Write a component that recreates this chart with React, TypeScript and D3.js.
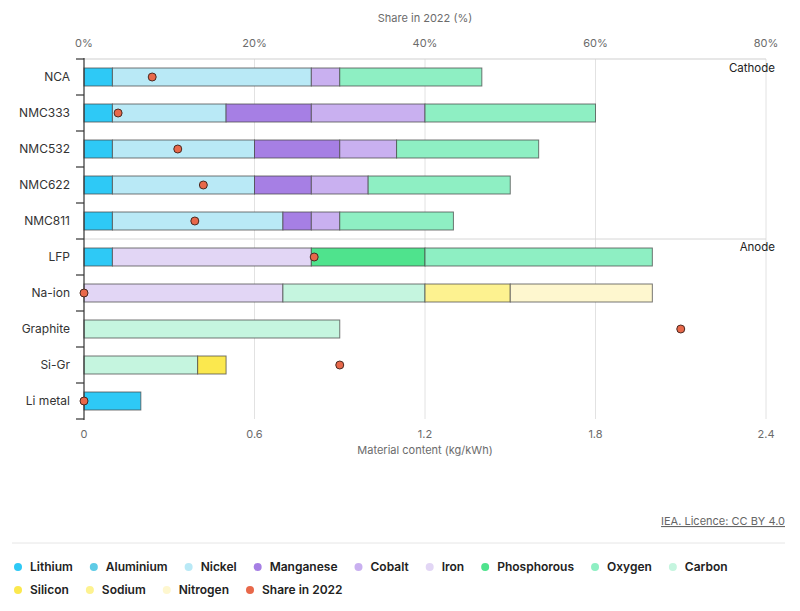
import React, { useMemo } from "react";
import * as d3 from "d3";

const categories = ["NCA", "NMC333", "NMC532", "NMC622", "NMC811", "LFP", "Na-ion", "Graphite", "Si-Gr", "Li metal"];
const elements = ["Lithium", "Aluminium", "Nickel", "Manganese", "Cobalt", "Iron", "Phosphorous", "Oxygen", "Carbon", "Silicon", "Sodium", "Nitrogen"];
const lithium = [0.1, 0.1, 0.1, 0.1, 0.1, 0.1, 0, 0, 0, 0.2];
const aluminium = [0, 0, 0, 0, 0, 0, 0, 0, 0, 0];
const nickel = [0.7, 0.4, 0.5, 0.5, 0.6, 0, 0, 0, 0, 0];
const manganese = [0, 0.3, 0.3, 0.2, 0.1, 0, 0, 0, 0, 0];
const cobalt = [0.1, 0.4, 0.2, 0.2, 0.1, 0, 0, 0, 0, 0];
const iron = [0, 0, 0, 0, 0, 0.7, 0.7, 0, 0, 0];
const phosphorous = [0, 0, 0, 0, 0, 0.4, 0, 0, 0, 0];
const oxygen = [0.5, 0.6, 0.5, 0.5, 0.4, 0.8, 0, 0, 0, 0];
const carbon = [0, 0, 0, 0, 0, 0, 0.5, 0.9, 0.4, 0];
const silicon = [0, 0, 0, 0, 0, 0, 0, 0, 0.1, 0];
const sodium = [0, 0, 0, 0, 0, 0, 0.3, 0, 0, 0];
const nitrogen = [0, 0, 0, 0, 0, 0, 0.5, 0, 0, 0];
const share2022 = [8, 4, 11, 14, 13, 27, 0, 70, 30, 0];
const xTicks = [0, 0.6, 1.2, 1.8, 2.4];
const topTicks = [0, 20, 40, 60, 80];
const groupLabels = ["Cathode", "Anode"];

const colors: Record<string, string> = {
  Lithium: "#2ec9f6",
  Aluminium: "#5ecbe6",
  Nickel: "#b9e9f6",
  Manganese: "#a67fe4",
  Cobalt: "#c9b0f0",
  Iron: "#e2d6f5",
  Phosphorous: "#4fe38d",
  Oxygen: "#8eefc3",
  Carbon: "#c5f5df",
  Silicon: "#fbe84e",
  Sodium: "#fdf290",
  Nitrogen: "#fef7cf",
  "Share in 2022": "#e8684a",
};

const FONT = "Inter, 'Noto Sans', sans-serif";

function measure(text: string, font: string) {
  const c = document.createElement("canvas").getContext("2d");
  if (!c) return text.length * 7;
  c.font = font;
  return c.measureText(text).width;
}

export default function App() {
  const W = 800, H = 611;
  const left = 84, right = 766, top = 59, bottom = 419;
  const x = d3.scaleLinear().domain([0, 2.4]).range([left, right]);
  const xTop = d3.scaleLinear().domain([0, 80]).range([left, right]);
  const y = d3.scaleBand().domain(categories).range([top, bottom]).paddingInner(0.5).paddingOuter(0.25);

  const series = [lithium, aluminium, nickel, manganese, cobalt, iron, phosphorous, oxygen, carbon, silicon, sodium, nitrogen];
  const table = categories.map((c, i) => {
    const row: any = { cat: c };
    elements.forEach((e, j) => (row[e] = series[j][i]));
    return row;
  });
  const stacked = d3.stack().keys(elements)(table);

  const step = y.step();
  const boundaries = d3.range(categories.length + 1).map((i) => top + i * step);

  const legendFont = `600 12px ${FONT}`;
  const legendRows = [
    ["Lithium", "Aluminium", "Nickel", "Manganese", "Cobalt", "Iron", "Phosphorous", "Oxygen", "Carbon"],
    ["Silicon", "Sodium", "Nitrogen", "Share in 2022"],
  ];
  const legendLayout = useMemo(() => {
    return legendRows.map((row) => {
      let cx = 18;
      return row.map((name) => {
        const item = { name, dot: cx, text: cx + 12 };
        cx = cx + 12 + measure(name, legendFont) + 21;
        return item;
      });
    });
  }, []);

  return (
    <svg width={W} height={H} style={{ position: "absolute", left: 0, top: 0, background: "#fff" }} fontFamily={FONT}>
      {/* gridlines */}
      {xTicks.slice(1).map((t) => (
        <line key={t} x1={x(t)} x2={x(t)} y1={top} y2={bottom} stroke="#e2e2e2" strokeWidth={1} />
      ))}
      <line x1={left} x2={right} y1={top} y2={top} stroke="#cfcfcf" strokeWidth={1} />
      <line x1={left} x2={right} y1={boundaries[5]} y2={boundaries[5]} stroke="#d6d6d6" strokeWidth={1} />

      {/* top axis */}
      <text x={(left + right) / 2} y={22} textAnchor="middle" fontSize={11} fill="#6b6b6b">Share in 2022 (%)</text>
      {topTicks.map((t) => (
        <text key={t} x={xTop(t)} y={47} textAnchor="middle" fontSize={11} fill="#6b6b6b">{t}%</text>
      ))}

      {/* bottom axis */}
      {xTicks.map((t) => (
        <text key={t} x={x(t)} y={438} textAnchor="middle" fontSize={11} fill="#6b6b6b">{t}</text>
      ))}
      <text x={(left + right) / 2} y={454} textAnchor="middle" fontSize={11} fill="#6b6b6b">Material content (kg/kWh)</text>

      {/* bars */}
      {stacked.map((s) =>
        s.map((d, i) => {
          const w = x(d[1]) - x(d[0]);
          if (w <= 0.01) return null;
          return (
            <rect key={s.key + i} x={x(d[0])} y={y(categories[i])!} width={w} height={y.bandwidth()}
              fill={colors[s.key]} stroke="#4a4a4a" strokeOpacity={0.75} strokeWidth={1} />
          );
        })
      )}

      {/* left axis */}
      <line x1={left} x2={left} y1={top - 1} y2={bottom + 1} stroke="#333" strokeWidth={1.2} />
      {boundaries.map((b, i) => (
        <line key={i} x1={left - 8} x2={left} y1={b} y2={b} stroke="#333" strokeWidth={1.2} />
      ))}
      {categories.map((c) => (
        <text key={c} x={70} y={y(c)! + y.bandwidth() / 2 + 4} textAnchor="end" fontSize={12} fill="#333">{c}</text>
      ))}

      {/* group labels */}
      <text x={775} y={72} textAnchor="end" fontSize={11.5} fill="#222">{groupLabels[0]}</text>
      <text x={775} y={251} textAnchor="end" fontSize={11.5} fill="#222">{groupLabels[1]}</text>

      {/* share dots */}
      {share2022.map((v, i) => (
        <circle key={i} cx={xTop(v)} cy={y(categories[i])! + y.bandwidth() / 2} r={4} fill={colors["Share in 2022"]} stroke="#4a2a22" strokeWidth={1} />
      ))}

      {/* credit */}
      <text x={785} y={525} textAnchor="end" fontSize={11} fill="#666" textDecoration="underline">IEA. Licence: CC BY 4.0</text>
      <line x1={12} x2={785} y1={543} y2={543} stroke="#e6e6e6" strokeWidth={1} />

      {/* legend */}
      {legendLayout.map((row, ri) =>
        row.map((it) => (
          <g key={it.name}>
            <circle cx={it.dot} cy={567 + ri * 23} r={4} fill={colors[it.name]} />
            <text x={it.text} y={571 + ri * 23} fontSize={12} fontWeight={600} fill="#222">{it.name}</text>
          </g>
        ))
      )}
    </svg>
  );
}
